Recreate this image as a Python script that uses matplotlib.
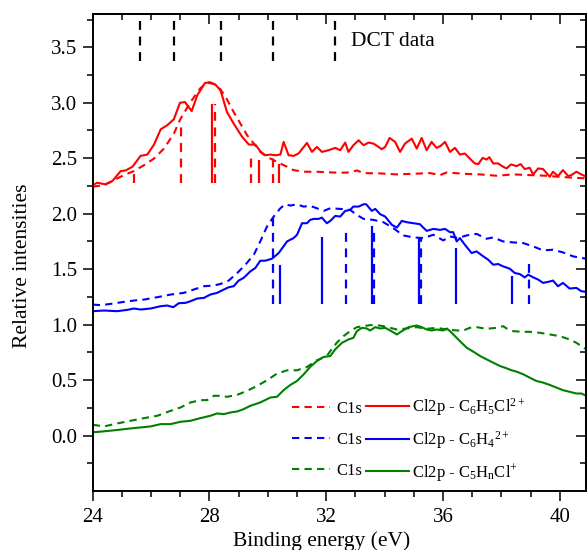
import numpy as np
import matplotlib.pyplot as plt
from matplotlib.ticker import MultipleLocator, FixedLocator, FormatStrFormatter

plt.rcParams['font.family'] = ['Liberation Serif', 'DejaVu Serif']
plt.rcParams['mathtext.fontset'] = 'custom'
plt.rcParams['mathtext.rm'] = 'Liberation Serif'
plt.rcParams['mathtext.it'] = 'Liberation Serif:italic'
plt.rcParams['mathtext.bf'] = 'Liberation Serif:bold'

# C6H5Cl2+ (red), offset 2.25
red_cl_x = [24.0, 24.16, 24.44, 24.67, 24.96, 25.13, 25.36, 25.64, 25.87, 26.10,
            26.33, 26.55, 26.78, 26.99, 27.16, 27.39, 27.58, 27.84, 28.01, 28.21,
            28.38, 28.60, 28.83, 29.12, 29.35, 29.57, 29.74, 29.91, 30.09, 30.26,
            30.43, 30.54, 30.71, 30.88, 31.05, 31.34, 31.51, 31.68, 31.85, 32.08,
            32.31, 32.48, 32.65, 32.76, 32.93, 33.11, 33.28, 33.45, 33.62, 33.79,
            33.90, 34.02, 34.17, 34.36, 34.53, 34.70, 34.93, 35.10, 35.27, 35.44,
            35.61, 35.78, 35.92, 36.07, 36.24, 36.41, 36.58, 36.75, 36.92, 37.09,
            37.21, 37.36, 37.49, 37.59, 37.72, 37.89, 38.06, 38.18, 38.33, 38.52,
            38.66, 38.80, 38.97, 39.09, 39.26, 39.43, 39.66, 39.77, 39.94, 40.11,
            40.29, 40.40, 40.57, 40.74, 40.91]
red_cl_y = [2.258, 2.279, 2.264, 2.294, 2.384, 2.390, 2.423, 2.521, 2.533, 2.623,
            2.761, 2.797, 2.851, 3.000, 3.006, 2.925, 3.066, 3.177, 3.186, 3.162,
            3.111, 2.916, 2.812, 2.692, 2.623, 2.623, 2.563, 2.527, 2.533, 2.527,
            2.533, 2.647, 2.527, 2.521, 2.542, 2.638, 2.557, 2.602, 2.557, 2.572,
            2.593, 2.572, 2.641, 2.557, 2.617, 2.662, 2.617, 2.641, 2.632, 2.602,
            2.581, 2.602, 2.683, 2.647, 2.557, 2.632, 2.677, 2.587, 2.683, 2.572,
            2.647, 2.593, 2.611, 2.647, 2.557, 2.593, 2.533, 2.542, 2.497, 2.453,
            2.447, 2.503, 2.488, 2.509, 2.453, 2.453, 2.423, 2.408, 2.444, 2.429,
            2.447, 2.402, 2.414, 2.354, 2.408, 2.402, 2.333, 2.378, 2.339, 2.393,
            2.339, 2.348, 2.378, 2.354, 2.333]
red_c1s_x = [24.0, 24.39, 24.73, 25.07, 25.41, 25.76, 26.10, 26.44, 26.78, 27.01,
             27.35, 27.69, 27.92, 28.15, 28.38, 28.60, 28.83, 29.06, 29.29, 29.52,
             29.74, 29.97, 30.20, 30.43, 30.66, 30.88, 31.23, 31.68, 32.14, 32.48,
             32.82, 33.05, 33.28, 33.85, 34.42, 34.99, 35.56, 35.90, 36.13, 36.70,
             37.27, 37.84, 38.41, 38.97, 39.54, 40.11, 40.91]
red_c1s_y = [2.243, 2.258, 2.303, 2.348, 2.384, 2.438, 2.497, 2.587, 2.722, 2.857,
             3.006, 3.132, 3.180, 3.171, 3.120, 3.030, 2.916, 2.812, 2.707, 2.632,
             2.557, 2.512, 2.482, 2.452, 2.423, 2.393, 2.378, 2.378, 2.372, 2.369,
             2.372, 2.390, 2.366, 2.363, 2.354, 2.360, 2.366, 2.348, 2.372, 2.360,
             2.354, 2.342, 2.354, 2.348, 2.342, 2.330, 2.318]

# C6H4 2+ (blue), offset 1.1
blue_cl_x = [24.0, 24.39, 24.84, 25.19, 25.41, 25.64, 25.98, 26.33, 26.55, 26.76,
             26.95, 27.18, 27.35, 27.58, 27.81, 28.03, 28.26, 28.49, 28.66, 28.83,
             29.00, 29.17, 29.40, 29.57, 29.74, 29.91, 30.14, 30.37, 30.66, 30.88,
             31.00, 31.17, 31.34, 31.45, 31.57, 31.74, 31.85, 32.02, 32.14, 32.31,
             32.48, 32.65, 32.82, 32.93, 33.11, 33.28, 33.37, 33.56, 33.68, 33.85,
             34.02, 34.25, 34.42, 34.59, 34.76, 34.99, 35.21, 35.44, 35.67, 35.90,
             36.07, 36.24, 36.35, 36.47, 36.58, 36.75, 36.98, 37.15, 37.38, 37.55,
             37.72, 37.89, 38.06, 38.29, 38.46, 38.63, 38.80, 38.92, 39.09, 39.26,
             39.43, 39.60, 39.77, 39.94, 40.11, 40.34, 40.57, 40.74, 40.91]
blue_cl_y = [1.121, 1.127, 1.121, 1.133, 1.145, 1.136, 1.145, 1.166, 1.172, 1.157,
             1.193, 1.196, 1.211, 1.235, 1.241, 1.271, 1.286, 1.316, 1.337, 1.346,
             1.397, 1.421, 1.480, 1.510, 1.576, 1.576, 1.594, 1.645, 1.750, 1.780,
             1.810, 1.914, 1.914, 1.944, 1.953, 1.953, 1.965, 1.914, 1.935, 1.980,
             1.974, 2.025, 2.034, 2.064, 2.064, 2.085, 2.085, 2.025, 2.043, 1.995,
             1.974, 1.899, 1.875, 1.935, 1.923, 1.914, 1.905, 1.845, 1.863, 1.854,
             1.863, 1.833, 1.833, 1.750, 1.780, 1.720, 1.645, 1.660, 1.615, 1.585,
             1.540, 1.546, 1.525, 1.504, 1.465, 1.456, 1.426, 1.450, 1.426, 1.406,
             1.376, 1.385, 1.397, 1.346, 1.376, 1.325, 1.331, 1.301, 1.295]
blue_c1s_x = [24.0, 24.27, 24.62, 25.07, 25.41, 25.76, 26.21, 26.67, 27.12, 27.46,
              27.81, 28.15, 28.38, 28.66, 28.95, 29.23, 29.52, 29.74, 29.97, 30.20,
              30.43, 30.60, 30.77, 30.99, 31.22, 31.45, 31.68, 31.91, 32.14, 32.48,
              32.82, 33.05, 33.28, 33.62, 33.96, 34.30, 34.64, 34.99, 35.33, 35.67,
              36.01, 36.24, 36.52, 36.81, 37.15, 37.49, 37.72, 38.06, 38.40, 38.75,
              39.09, 39.43, 39.77, 40.11, 40.46, 40.91]
blue_c1s_y = [1.181, 1.175, 1.187, 1.205, 1.217, 1.226, 1.247, 1.271, 1.286, 1.316,
              1.346, 1.352, 1.367, 1.397, 1.465, 1.540, 1.630, 1.750, 1.884, 1.974,
              2.049, 2.085, 2.073, 2.085, 2.064, 2.070, 2.049, 2.025, 2.049, 2.043,
              2.034, 1.989, 1.953, 1.944, 1.923, 1.869, 1.804, 1.786, 1.780, 1.810,
              1.759, 1.795, 1.780, 1.804, 1.818, 1.774, 1.786, 1.750, 1.741, 1.735,
              1.705, 1.669, 1.675, 1.651, 1.615, 1.594]

# C5HnCl+ (green), no offset
green_cl_x = [24.0, 24.39, 24.84, 25.30, 25.64, 25.98, 26.33, 26.67, 27.01, 27.35,
              27.69, 28.03, 28.26, 28.49, 28.72, 28.95, 29.17, 29.40, 29.74, 30.09,
              30.31, 30.54, 30.77, 31.00, 31.23, 31.45, 31.68, 31.91, 32.14, 32.31,
              32.54, 32.76, 32.93, 33.05, 33.22, 33.39, 33.50, 33.68, 33.85, 34.02,
              34.19, 34.42, 34.59, 34.82, 35.10, 35.27, 35.44, 35.61, 35.78, 36.01,
              36.13, 36.24, 36.41, 36.58, 36.81, 37.04, 37.27, 37.49, 37.72, 37.95,
              38.18, 38.35, 38.52, 38.75, 38.97, 39.20, 39.43, 39.66, 39.89, 40.11,
              40.34, 40.57, 40.74, 40.91]
green_cl_y = [0.029, 0.038, 0.050, 0.064, 0.073, 0.082, 0.103, 0.103, 0.124, 0.133,
              0.157, 0.178, 0.199, 0.193, 0.208, 0.217, 0.238, 0.268, 0.298, 0.343,
              0.349, 0.409, 0.456, 0.492, 0.552, 0.618, 0.672, 0.708, 0.717, 0.777,
              0.836, 0.866, 0.881, 0.941, 0.971, 0.965, 0.947, 0.977, 0.965, 0.971,
              0.947, 0.911, 0.941, 0.977, 0.992, 0.977, 0.956, 0.947, 0.956, 0.947,
              0.965, 0.941, 0.896, 0.851, 0.792, 0.756, 0.717, 0.687, 0.657, 0.627,
              0.606, 0.588, 0.576, 0.552, 0.522, 0.492, 0.477, 0.456, 0.432, 0.409,
              0.394, 0.379, 0.379, 0.358]
green_c1s_x = [24.0, 24.39, 24.84, 25.30, 25.76, 26.21, 26.67, 27.01, 27.35, 27.69,
               27.92, 28.15, 28.38, 28.60, 28.95, 29.29, 29.63, 29.97, 30.31, 30.66,
               31.00, 31.34, 31.68, 32.02, 32.14, 32.36, 32.59, 32.82, 33.05, 33.28,
               33.50, 33.73, 33.96, 34.19, 34.42, 34.76, 35.10, 35.44, 35.78, 36.13,
               36.47, 36.70, 36.92, 37.15, 37.49, 37.84, 38.06, 38.18, 38.40, 38.75,
               38.97, 39.32, 39.66, 40.00, 40.34, 40.57, 40.91]
green_c1s_y = [0.097, 0.082, 0.109, 0.133, 0.157, 0.178, 0.223, 0.253, 0.298, 0.319,
               0.319, 0.358, 0.358, 0.349, 0.367, 0.403, 0.447, 0.498, 0.558, 0.588,
               0.588, 0.618, 0.678, 0.717, 0.762, 0.836, 0.896, 0.941, 0.977, 0.986,
               0.995, 0.995, 0.986, 0.971, 0.956, 0.965, 0.977, 0.962, 0.971, 0.956,
               0.947, 0.947, 0.971, 0.977, 0.962, 0.971, 0.986, 0.965, 0.941, 0.935,
               0.935, 0.926, 0.911, 0.896, 0.866, 0.836, 0.777]

# calculated lines (sticks)
red_base = 2.279
red_stick_c1s_x = [25.41, 27.01, 28.20, 29.41, 30.19]
red_stick_c1s_top = [2.363, 2.827, 2.991, 2.513, 2.513]
red_stick_cl_x = [28.09, 29.70, 30.39]
red_stick_cl_top = [2.991, 2.488, 2.452]

blue_base = 1.187
blue_stick_c1s_x = [30.19, 32.67, 33.65, 35.25, 38.95]
blue_stick_c1s_top = [1.992, 1.884, 1.884, 1.779, 1.576]
blue_stick_cl_x = [30.40, 31.87, 33.58, 35.18, 36.45, 38.35]
blue_stick_cl_top = [1.540, 1.794, 1.893, 1.788, 1.689, 1.442]

dct_x = [25.62, 26.80, 28.39, 30.19, 32.31]
dct_low = 3.38
dct_high = 3.8

RED = '#ff0000'
BLUE = '#0000ff'
GREEN = '#008000'
dash = (0, (3.5, 2.5))
stick_dash = (0, (4, 3))

fig = plt.figure(figsize=(5.88, 5.5), dpi=100)
ax = fig.add_axes([0.1577, 0.1073, 0.8389, 0.8672])

h_rd, = ax.plot(red_c1s_x, red_c1s_y, color=RED, lw=1.5, ls=dash)
h_rs, = ax.plot(red_cl_x, red_cl_y, color=RED, lw=1.5)
h_bd, = ax.plot(blue_c1s_x, blue_c1s_y, color=BLUE, lw=1.5, ls=dash)
h_bs, = ax.plot(blue_cl_x, blue_cl_y, color=BLUE, lw=1.5)
h_gd, = ax.plot(green_c1s_x, green_c1s_y, color=GREEN, lw=1.5, ls=dash)
h_gs, = ax.plot(green_cl_x, green_cl_y, color=GREEN, lw=1.5)

ax.vlines(red_stick_c1s_x, red_base, red_stick_c1s_top, colors=RED, lw=1.6,
          linestyles=[stick_dash])
ax.vlines(red_stick_cl_x, red_base, red_stick_cl_top, colors=RED, lw=1.6)
ax.vlines(blue_stick_c1s_x, blue_base, blue_stick_c1s_top, colors=BLUE, lw=1.6,
          linestyles=[stick_dash])
ax.vlines(blue_stick_cl_x, blue_base, blue_stick_cl_top, colors=BLUE, lw=1.6)
ax.vlines(dct_x, dct_low, dct_high, colors='black', lw=1.6,
          linestyles=[stick_dash])

ax.text(32.84, 3.515, 'DCT data', fontsize=15.5, va='baseline', ha='left')

ax.set_xlim(24, 40.9)
ax.set_ylim(-0.5, 3.8)
ax.xaxis.set_major_locator(FixedLocator([24, 28, 32, 36, 40]))
ax.xaxis.set_minor_locator(MultipleLocator(1))
ax.yaxis.set_major_locator(FixedLocator(np.arange(0, 3.51, 0.5)))
ax.yaxis.set_minor_locator(FixedLocator(np.arange(-0.25, 3.8, 0.25)))
ax.yaxis.set_major_formatter(FormatStrFormatter('%.1f'))

for s in ax.spines.values():
    s.set_linewidth(1.4)
ax.tick_params(which='both', labelsize=15, width=1.1)
ax.tick_params(which='major', length=7)
ax.tick_params(which='minor', length=4)
ax.tick_params(axis='x', which='both', direction='out', top=False, pad=5)
ax.tick_params(axis='y', which='both', direction='out', right=False, pad=4)
# inward ticks on the top and right
sec_x = ax.secondary_xaxis('top')
sec_x.xaxis.set_major_locator(FixedLocator([24, 28, 32, 36, 40]))
sec_x.xaxis.set_minor_locator(MultipleLocator(1))
sec_x.tick_params(which='both', direction='in', labeltop=False, width=1.1)
sec_x.tick_params(which='major', length=7)
sec_x.tick_params(which='minor', length=4)
sec_y = ax.secondary_yaxis('right')
sec_y.yaxis.set_major_locator(FixedLocator(np.arange(0, 3.51, 0.5)))
sec_y.yaxis.set_minor_locator(FixedLocator(np.arange(-0.25, 3.8, 0.25)))
sec_y.tick_params(which='both', direction='in', labelright=False, width=1.1)
sec_y.tick_params(which='major', length=7)
sec_y.tick_params(which='minor', length=4)
for s in list(sec_x.spines.values()) + list(sec_y.spines.values()):
    s.set_linewidth(1.4)

ax.set_xlabel('Binding energy (eV)', fontsize=15.5)
ax.set_ylabel('Relative intensities', fontsize=15.5)
ax.xaxis.set_label_coords(0.465, -0.105)
ax.xaxis.label.set_va('center')
ax.yaxis.set_label_coords(-0.143, 0.472)
ax.yaxis.label.set_va('center')

leg1 = ax.legend([h_rd, h_bd, h_gd], ['C1s', 'C1s', 'C1s'], loc='center left',
                 bbox_to_anchor=(0.4034, 0.107), frameon=False, fontsize=12,
                 handlelength=2.3, handletextpad=0.35, labelspacing=0.9,
                 borderpad=0, borderaxespad=0)
ax.add_artist(leg1)
leg2 = ax.legend([h_rs, h_bs, h_gs],
                 [r'Cl2p - C$_6$H$_5$Cl$^{2+}$',
                  r'Cl2p - C$_6$H$_4{}^{2+}$',
                  r'Cl2p - C$_5$H$_\mathrm{n}$Cl$^{+}$'],
                 loc='center left', bbox_to_anchor=(0.554, 0.107),
                 frameon=False, fontsize=12, handlelength=2.55,
                 handletextpad=0.2, labelspacing=0.65, borderpad=0,
                 borderaxespad=0)

fig.savefig('out.png', dpi=100)
